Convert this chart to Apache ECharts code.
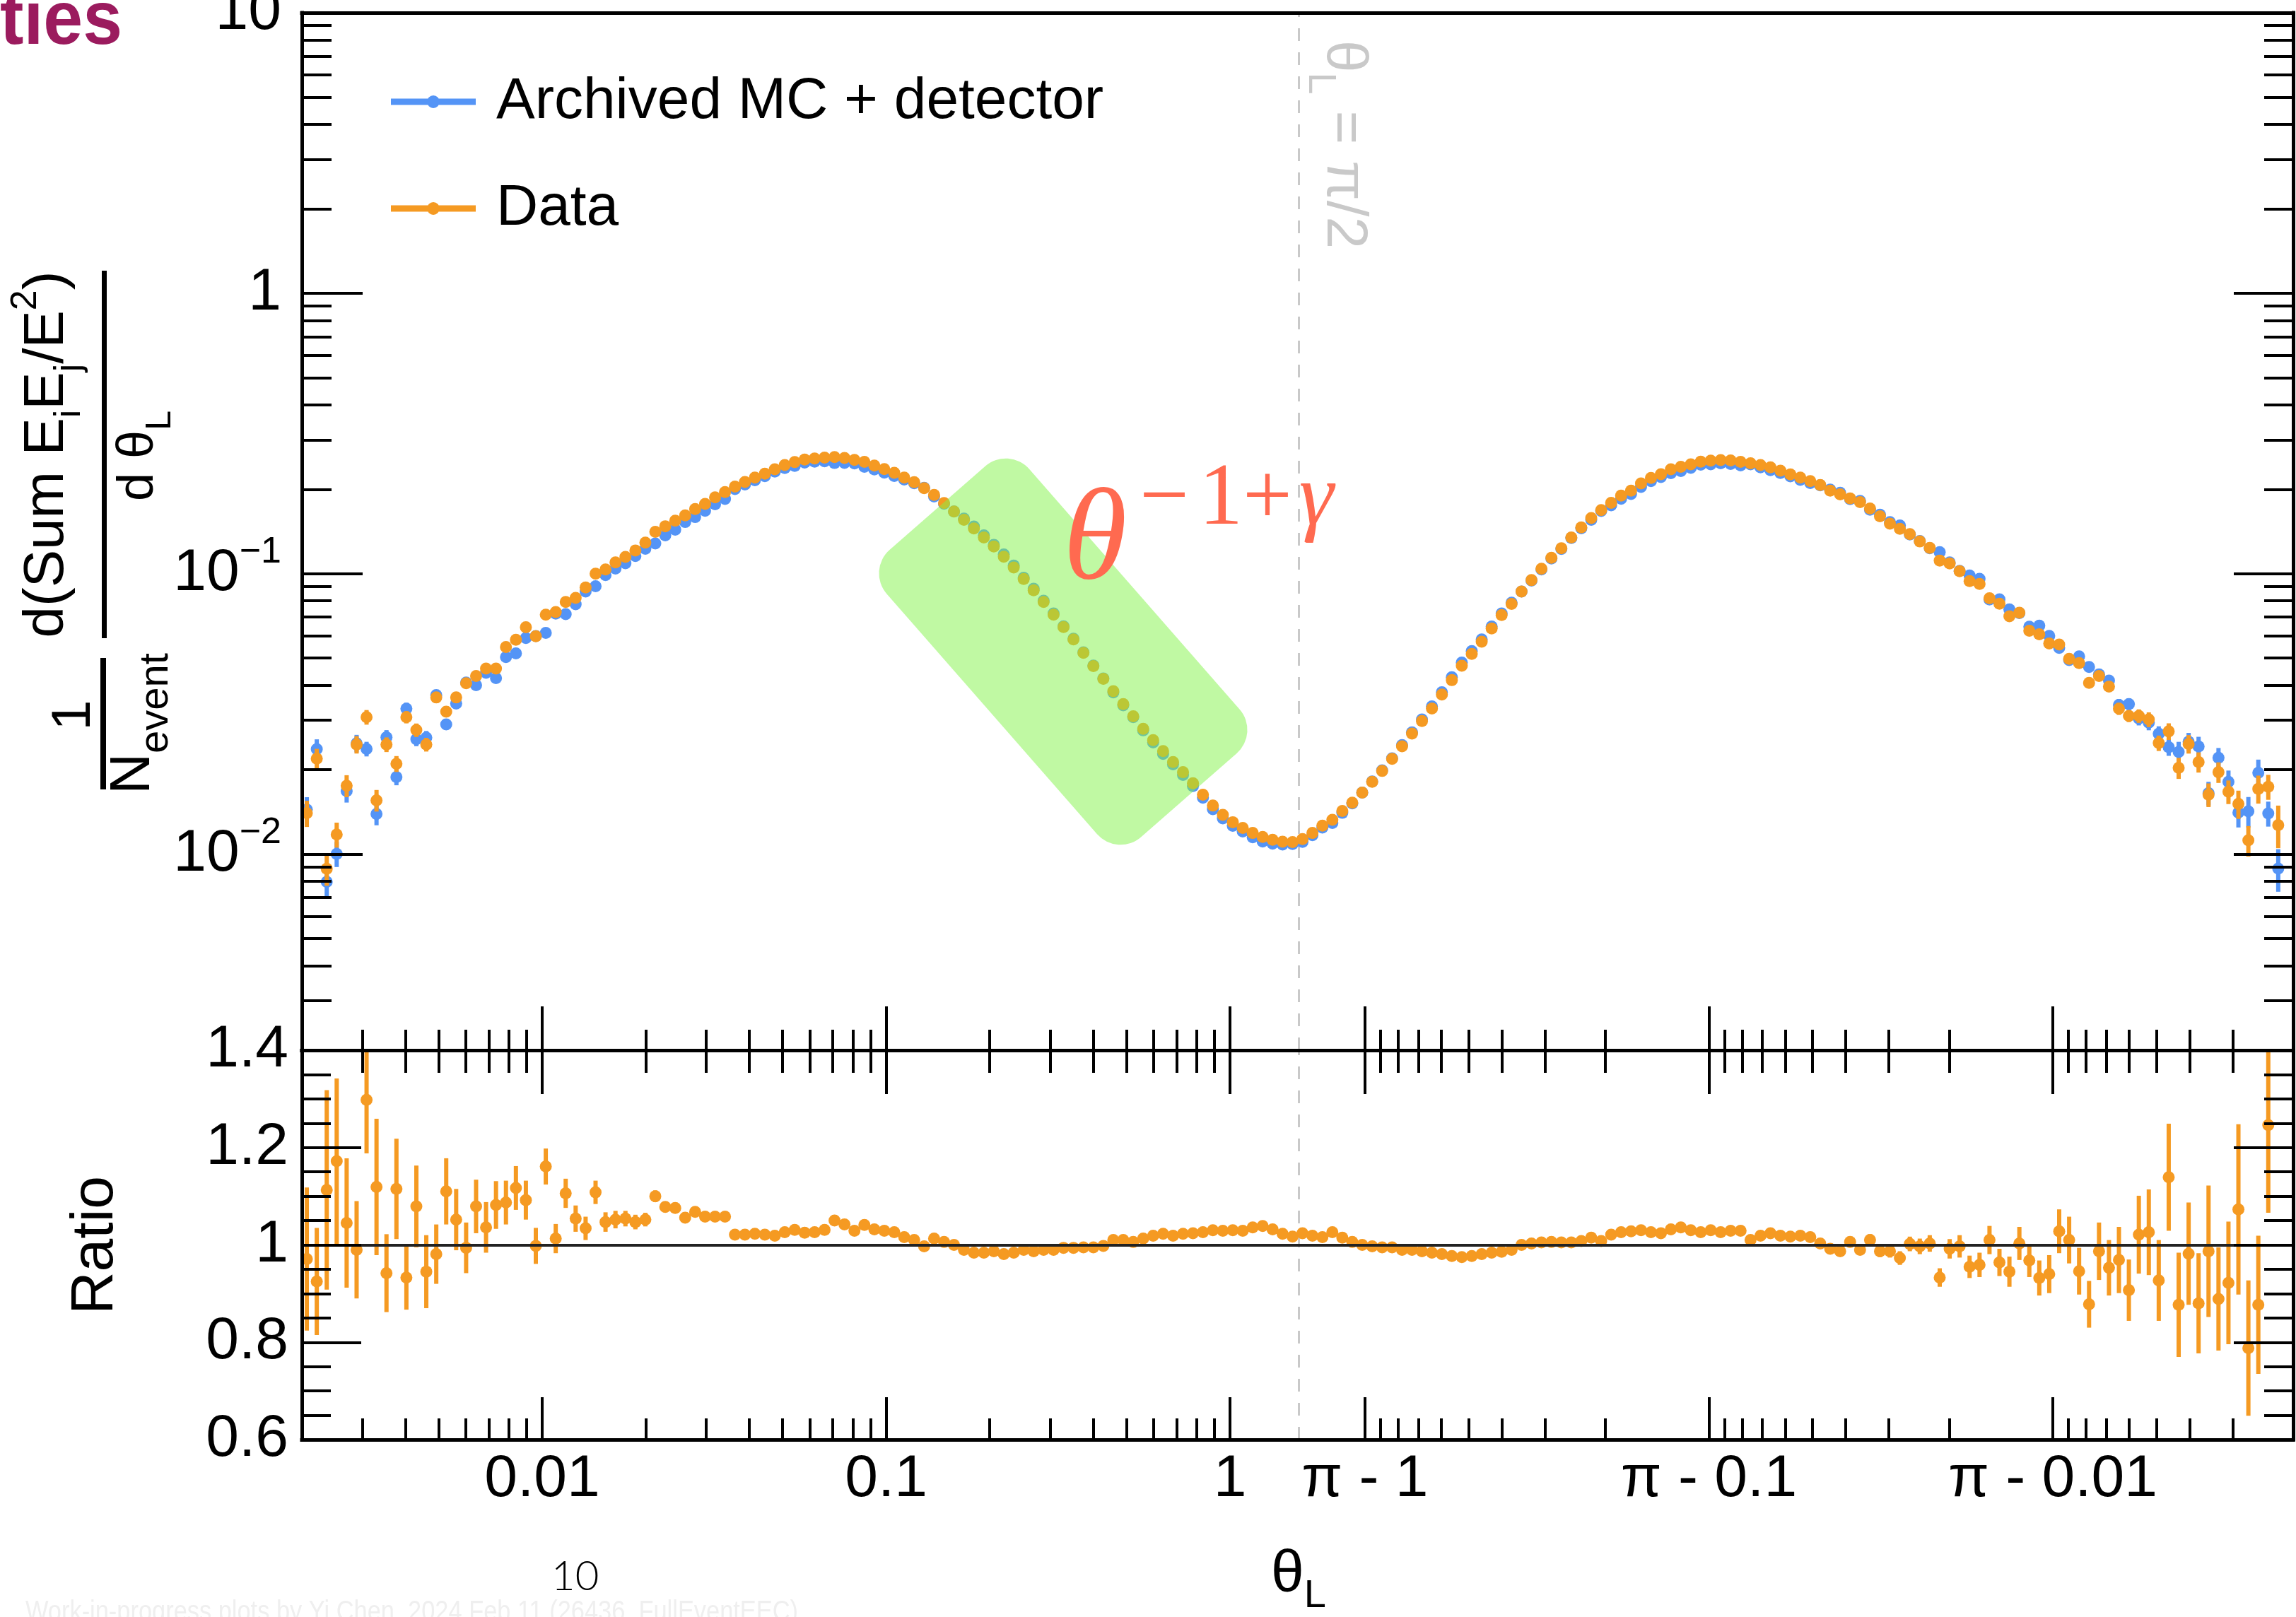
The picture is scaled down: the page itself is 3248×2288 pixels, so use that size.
<!DOCTYPE html>
<html>
<head>
<meta charset="utf-8">
<title>Full-event EEC: archived MC vs data</title>
<script src="https://cdn.jsdelivr.net/npm/echarts@6.0.0/dist/echarts.min.js"></script>
<style>
  html, body { margin: 0; padding: 0; background: #ffffff; }
  #chart { width: 3248px; height: 2288px; }
</style>
</head>
<body>
<div id="chart"></div>
<script>
// ---------------- binning ----------------
// 100 log-spaced bins in theta on [THETA_MIN, pi/2], then 100 mirrored log bins in (pi - theta)
const THETA_MIN = 0.002;
const N_HALF = 100;

// ---------------- per-bin values (left to right along theta_L) ----------------
// Data: 1/N dSum(EiEj/E^2)/dtheta_L
const dataVals = [
  0.0140, 0.0219, 0.00887, 0.01175, 0.01754, 0.0246, 0.0308, 0.01556, 0.0246, 0.0210,
  0.0308, 0.0277, 0.0246, 0.0362, 0.0322, 0.0362, 0.0407, 0.0432, 0.0459, 0.0459,
  0.0548, 0.0581, 0.0644, 0.0598, 0.0714, 0.0730, 0.0793, 0.0820, 0.0893, 0.1000,
  0.1035, 0.1097, 0.1148, 0.1210, 0.1290, 0.1410, 0.1476, 0.1545, 0.1614, 0.1700,
  0.1774, 0.1870, 0.1955, 0.2044, 0.2124, 0.2202, 0.2274, 0.2355, 0.2441, 0.2499,
  0.2551, 0.2574, 0.2593, 0.2605, 0.2586, 0.2544, 0.2503, 0.2430, 0.2359, 0.2288,
  0.2202, 0.2121, 0.2017, 0.1909, 0.1786, 0.1666, 0.1557, 0.1450, 0.1347, 0.1251,
  0.1149, 0.1052, 0.0957, 0.0873, 0.0793, 0.0714, 0.0645, 0.0583, 0.0522, 0.0468,
  0.0422, 0.0381, 0.0343, 0.0310, 0.0280, 0.0255, 0.0233, 0.0213, 0.0196, 0.0179,
  0.0163, 0.0149, 0.0138, 0.0130, 0.0124, 0.0119, 0.01152, 0.01125, 0.01107, 0.01105,
  0.01132, 0.0119, 0.01263, 0.01326, 0.01425, 0.01526, 0.01658, 0.01811, 0.01980, 0.02186,
  0.02424, 0.02690, 0.02982, 0.03308, 0.03707, 0.04173, 0.04697, 0.05178, 0.05718, 0.06379,
  0.07118, 0.07801, 0.08642, 0.09484, 0.1041, 0.1139, 0.1232, 0.1347, 0.1463, 0.1580,
  0.1686, 0.1789, 0.1898, 0.1978, 0.2099, 0.2195, 0.2264, 0.2355, 0.2405, 0.2455,
  0.2509, 0.2529, 0.2541, 0.2533, 0.2503, 0.2477, 0.2441, 0.2394, 0.2328, 0.2260,
  0.2202, 0.2137, 0.2071, 0.1978, 0.1918, 0.1856, 0.1800, 0.1707, 0.1603, 0.1507,
  0.1446, 0.1383, 0.1303, 0.1236, 0.1114, 0.1088, 0.1020, 0.0941, 0.0919, 0.0817,
  0.0781, 0.0705, 0.0726, 0.0626, 0.0608, 0.0564, 0.0559, 0.0497, 0.0480, 0.0408,
  0.0432, 0.0396, 0.0330, 0.0311, 0.0311, 0.0302, 0.0249, 0.0274, 0.0203, 0.0247,
  0.0213, 0.0163, 0.0196, 0.0167, 0.0151, 0.0112, 0.0171, 0.0174, 0.0127, null
];

// Data / archived MC
const ratioVals = [
  0.971, 0.925, 1.113, 1.172, 1.045, 0.990, 1.298, 1.119, 0.942, 1.115,
  0.933, 1.079, 0.945, 0.981, 1.110, 1.052, 0.994, 1.079, 1.036, 1.082,
  1.087, 1.117, 1.092, 0.998, 1.161, 1.013, 1.106, 1.054, 1.034, 1.108,
  1.047, 1.052, 1.054, 1.047, 1.052, 1.100, 1.078, 1.076, 1.056, 1.068,
  1.058, 1.058, 1.058, 1.021, 1.021, 1.023, 1.021, 1.019, 1.026, 1.031,
  1.025, 1.026, 1.031, 1.050, 1.042, 1.029, 1.041, 1.032, 1.029, 1.026,
  1.016, 1.010, 0.997, 1.013, 1.006, 1.000, 0.990, 0.984, 0.984, 0.987,
  0.981, 0.984, 0.990, 0.987, 0.990, 0.990, 0.994, 0.994, 0.995, 0.995,
  0.998, 1.010, 1.010, 1.006, 1.013, 1.019, 1.023, 1.019, 1.023, 1.024,
  1.026, 1.030, 1.029, 1.030, 1.029, 1.036, 1.039, 1.032, 1.023, 1.017,
  1.024, 1.019, 1.016, 1.026, 1.015, 1.006, 1.000, 0.997, 0.995, 0.995,
  0.990, 0.990, 0.987, 0.984, 0.981, 0.977, 0.975, 0.977, 0.981, 0.984,
  0.986, 0.990, 1.000, 1.003, 1.005, 1.006, 1.005, 1.005, 1.008, 1.015,
  1.008, 1.021, 1.026, 1.028, 1.030, 1.026, 1.024, 1.032, 1.036, 1.030,
  1.026, 1.030, 1.026, 1.029, 1.029, 1.010, 1.019, 1.024, 1.019, 1.017,
  1.019, 1.016, 1.003, 0.992, 0.987, 1.006, 0.990, 1.010, 0.987, 0.987,
  0.973, 1.002, 0.997, 1.003, 0.933, 0.992, 0.997, 0.955, 0.959, 1.010,
  0.964, 0.945, 1.003, 0.968, 0.932, 0.940, 1.028, 1.010, 0.946, 0.878,
  0.987, 0.953, 0.969, 0.907, 1.021, 1.026, 0.927, 1.139, 0.877, 0.982,
  0.880, 0.987, 0.889, 0.922, 1.073, 0.788, 0.877, 1.246, 1.430, null
];

// Statistical uncertainty on the ratio
const ratioErr = [
  0.147, 0.110, 0.205, 0.170, 0.133, 0.100, 0.110, 0.140, 0.080, 0.103,
  0.066, 0.084, 0.075, 0.061, 0.068, 0.063, 0.052, 0.055, 0.052, 0.049,
  0.045, 0.045, 0.040, 0.037, 0.037, 0.030, 0.030, 0.027, 0.024, 0.024,
  0.020, 0.018, 0.016, 0.015, 0.014, 0.012, 0.011, 0.010, 0.010, 0.009,
  0.009, 0.008, 0.008, 0.007, 0.007, 0.007, 0.006, 0.006, 0.005, 0.005,
  0.005, 0.005, 0.005, 0.005, 0.005, 0.005, 0.005, 0.005, 0.005, 0.005,
  0.005, 0.005, 0.005, 0.005, 0.005, 0.005, 0.005, 0.005, 0.005, 0.005,
  0.005, 0.005, 0.005, 0.005, 0.005, 0.005, 0.005, 0.005, 0.005, 0.005,
  0.005, 0.005, 0.005, 0.005, 0.005, 0.005, 0.005, 0.005, 0.005, 0.005,
  0.005, 0.005, 0.005, 0.005, 0.005, 0.005, 0.005, 0.005, 0.005, 0.005,
  0.005, 0.005, 0.005, 0.005, 0.005, 0.005, 0.005, 0.005, 0.005, 0.005,
  0.005, 0.005, 0.005, 0.005, 0.005, 0.005, 0.005, 0.005, 0.005, 0.005,
  0.005, 0.005, 0.005, 0.005, 0.005, 0.005, 0.005, 0.005, 0.005, 0.005,
  0.005, 0.005, 0.005, 0.005, 0.005, 0.005, 0.005, 0.005, 0.005, 0.005,
  0.005, 0.005, 0.005, 0.005, 0.005, 0.005, 0.005, 0.005, 0.005, 0.005,
  0.005, 0.006, 0.007, 0.008, 0.008, 0.010, 0.011, 0.012, 0.012, 0.013,
  0.014, 0.015, 0.016, 0.017, 0.019, 0.020, 0.023, 0.023, 0.025, 0.029,
  0.028, 0.031, 0.034, 0.034, 0.036, 0.039, 0.045, 0.048, 0.048, 0.048,
  0.059, 0.057, 0.068, 0.063, 0.080, 0.088, 0.083, 0.110, 0.107, 0.105,
  0.103, 0.135, 0.106, 0.126, 0.175, 0.139, 0.142, 0.180, 0.350, null
];

// ---------------- axis definitions ----------------
const X_MAJOR_THETA = [0.01, 0.1, 1, Math.PI - 1, Math.PI - 0.1, Math.PI - 0.01];
const X_MAJOR_LABELS = ['0.01', '0.1', '1', 'π - 1', 'π - 0.1', 'π - 0.01'];
const X_MINOR_MANTISSA = [2, 3, 4, 5, 6, 7, 8, 9];
const X_MINOR_DECADES = [-3, -2, -1];
const Y_MIN = 0.002, Y_MAX = 10;
const Y_MAJOR_DECADES = [-2, -1, 0, 1];
const RATIO_MIN = 0.6, RATIO_MAX = 1.4;
const RATIO_LABELS = [0.6, 0.8, 1, 1.2, 1.4];
const RATIO_MAJOR_TICKS = [0.8, 1, 1.2];
const RATIO_MINOR_TICKS = [0.65, 0.7, 0.75, 0.85, 0.9, 0.95, 1.05, 1.1, 1.15, 1.25, 1.3, 1.35];

const MC_NAME = 'Archived MC + detector';
const DATA_NAME = 'Data';
const BLUE = '#5494f6';
const ORANGE = '#f59a22';
const RED = '#ff6a50';
const SANS = '"Liberation Sans", Arial, Helvetica, sans-serif';
const SERIF = '"Liberation Serif", "Times New Roman", serif';

// Folded axis: log10(theta) up to pi/2, mirrored log10(pi - theta) beyond it
const HALF_PI = Math.PI / 2;
const LOG_HALF_PI = Math.log10(HALF_PI);
function foldTheta(theta) {
  return theta <= HALF_PI ? Math.log10(theta) : 2 * LOG_HALF_PI - Math.log10(Math.PI - theta);
}
const U_MIN = foldTheta(THETA_MIN);
const U_MAX = foldTheta(Math.PI - THETA_MIN);
const U_HALF = foldTheta(HALF_PI);

// bin centres
const binStep = (LOG_HALF_PI - Math.log10(THETA_MIN)) / N_HALF;
const binTheta = [];
for (let i = 0; i < N_HALF; i++) binTheta.push(Math.pow(10, Math.log10(THETA_MIN) + (i + 0.5) * binStep));
for (let j = 0; j < N_HALF; j++) binTheta.push(Math.PI - Math.pow(10, LOG_HALF_PI - (j + 0.5) * binStep));
const binX = binTheta.map(foldTheta);

// tick positions on the folded axis
const xMajorPos = X_MAJOR_THETA.map(foldTheta);
const xMinorPos = [];
X_MINOR_DECADES.forEach(n => X_MINOR_MANTISSA.forEach(m => {
  const t = m * Math.pow(10, n);
  xMinorPos.push(foldTheta(t), foldTheta(Math.PI - t));
}));
const LOG_MIN = Math.log10(Y_MIN), LOG_MAX = Math.log10(Y_MAX);
const yMajorLog = Y_MAJOR_DECADES.slice();
const yMinorLog = [];
[-3, -2, -1, 0].forEach(n => X_MINOR_MANTISSA.forEach(m => {
  const l = Math.log10(m * Math.pow(10, n));
  if (l >= LOG_MIN - 1e-9 && l <= LOG_MAX) yMinorLog.push(l);
}));

// ---------------- series data ----------------
const upperMC = [], upperData = [], ratioData = [];
dataVals.forEach((d, k) => {
  if (d == null || ratioVals[k] == null) return;
  const r = ratioVals[k];
  const mc = d / r;
  const rel = ratioErr[k] / r / Math.SQRT2;   // split evenly between data and MC
  upperMC.push([binX[k], mc, mc * (1 - rel), mc * (1 + rel)]);
  upperData.push([binX[k], d, d * (1 - rel), d * (1 + rel)]);
  if (r >= RATIO_MIN && r <= RATIO_MAX) ratioData.push([binX[k], r, r - ratioErr[k], r + ratioErr[k]]);
});

function errorBars(lowLimit, highLimit) {
  return function (params, api) {
    const x = api.value(0);
    const lo = Math.max(api.value(2), lowLimit);
    const hi = Math.min(api.value(3), highLimit);
    if (!(hi > lo)) return null;
    const p1 = api.coord([x, lo]);
    const p2 = api.coord([x, hi]);
    return {
      type: 'line',
      shape: { x1: p1[0], y1: p1[1], x2: p2[0], y2: p2[1] },
      style: { stroke: api.visual('color'), lineWidth: 6 }
    };
  };
}

// ---------------- axes ----------------
function axisCfg(o) {
  return {
    type: o.type || 'value', gridIndex: o.grid, position: o.pos,
    min: o.min, max: o.max, z: 10,
    axisLine: { show: !!o.line, onZero: false, lineStyle: { color: '#000', width: 5, cap: 'square' } },
    axisTick: o.ticks ? { show: true, inside: true, length: o.len, customValues: o.ticks,
                          lineStyle: { color: '#000', width: 4 } } : { show: false },
    axisLabel: o.labels ? Object.assign({ show: true, customValues: o.labels, color: '#000',
                          fontFamily: SANS, fontSize: 84, showMinLabel: true, showMaxLabel: true }, o.labelOpt)
                        : { show: false },
    splitLine: { show: false }, splitArea: { show: false },
    minorTick: { show: false }, minorSplitLine: { show: false }
  };
}

const xLabelFormatter = v => {
  const i = xMajorPos.findIndex(p => Math.abs(p - v) < 1e-9);
  return i >= 0 ? X_MAJOR_LABELS[i] : '';
};
const yLabelFormatter = v => {
  const e = Math.round(v);
  if (e === 1) return '{b|10}';
  if (e === 0) return '{b|1}';
  return '{b|10}{s|−' + (-e) + '}';
};
const ratioLabelFormatter = v => (Math.abs(v - 1) < 1e-9 ? '1' : v.toFixed(1));

const xAxes = [
  axisCfg({ grid: 0, pos: 'bottom', min: U_MIN, max: U_MAX, line: true, ticks: xMajorPos, len: 62 }),
  axisCfg({ grid: 0, pos: 'bottom', min: U_MIN, max: U_MAX, ticks: xMinorPos, len: 29 }),
  axisCfg({ grid: 0, pos: 'top', min: U_MIN, max: U_MAX, line: true }),
  axisCfg({ grid: 1, pos: 'bottom', min: U_MIN, max: U_MAX, line: true, ticks: xMajorPos, len: 60,
            labels: xMajorPos, labelOpt: { margin: 15, formatter: xLabelFormatter } }),
  axisCfg({ grid: 1, pos: 'bottom', min: U_MIN, max: U_MAX, ticks: xMinorPos, len: 30 }),
  axisCfg({ grid: 1, pos: 'top', min: U_MIN, max: U_MAX, line: true, ticks: xMajorPos, len: 62 }),
  axisCfg({ grid: 1, pos: 'top', min: U_MIN, max: U_MAX, ticks: xMinorPos, len: 32 })
];

const yAxes = [
  axisCfg({ type: 'log', grid: 0, pos: 'left', min: Y_MIN, max: Y_MAX, line: true }),
  axisCfg({ grid: 0, pos: 'left', min: LOG_MIN, max: LOG_MAX, ticks: yMajorLog, len: 86,
            labels: yMajorLog, labelOpt: {
              margin: 29, formatter: yLabelFormatter,
              rich: {
                b: { fontSize: 84, fontFamily: SANS, color: '#000' },
                s: { fontSize: 52, fontFamily: SANS, color: '#000', verticalAlign: 'top', padding: [0, 0, 60, 0] }
              } } }),
  axisCfg({ grid: 0, pos: 'left', min: LOG_MIN, max: LOG_MAX, ticks: yMinorLog, len: 42 }),
  axisCfg({ grid: 0, pos: 'right', min: LOG_MIN, max: LOG_MAX, line: true, ticks: yMajorLog, len: 84 }),
  axisCfg({ grid: 0, pos: 'right', min: LOG_MIN, max: LOG_MAX, ticks: yMinorLog, len: 41 }),
  axisCfg({ grid: 1, pos: 'left', min: RATIO_MIN, max: RATIO_MAX, line: true, ticks: RATIO_MAJOR_TICKS, len: 84,
            labels: RATIO_LABELS, labelOpt: { margin: 19, formatter: ratioLabelFormatter } }),
  axisCfg({ grid: 1, pos: 'left', min: RATIO_MIN, max: RATIO_MAX, ticks: RATIO_MINOR_TICKS, len: 41 }),
  axisCfg({ grid: 1, pos: 'right', min: RATIO_MIN, max: RATIO_MAX, line: true, ticks: RATIO_MAJOR_TICKS, len: 84 }),
  axisCfg({ grid: 1, pos: 'right', min: RATIO_MIN, max: RATIO_MAX, ticks: RATIO_MINOR_TICKS, len: 41 })
];

// ---------------- free text (titles, annotations) ----------------
const MID = 0.35;   // canvas 'middle' sits ~0.35 em above the alphabetic baseline
const mctx = document.createElement('canvas').getContext('2d');
function fontOf(p, family) {
  return (p.style || 'normal') + ' ' + (p.weight || 'normal') + ' ' + p.size + 'px ' + (p.family || family);
}
// Lays out a run of text pieces along a baseline; rot is counter-clockwise in radians
function textRun(pieces, o) {
  const r = o.rot || 0;
  const sx = o.scaleX || 1;
  const ax = Math.cos(r), ay = -Math.sin(r);
  const dx = Math.sin(r), dy = Math.cos(r);
  const widths = pieces.map(p => { mctx.font = fontOf(p, o.family); return mctx.measureText(p.t).width * sx; });
  const total = pieces.reduce((s, p, i) => s + (p.gap || 0) + widths[i], 0);
  let adv = o.align === 'center' ? -total / 2 : 0;
  return pieces.map((p, i) => {
    adv += p.gap || 0;
    const off = (p.dy || 0) - MID * p.size;
    const el = {
      type: 'text', silent: true, z: o.z || 50, rotation: r, scaleX: sx,
      x: o.x + ax * adv + dx * off, y: o.y + ay * adv + dy * off,
      style: { text: p.t, font: fontOf(p, o.family), fill: o.color || '#000',
               textAlign: 'left', textVerticalAlign: 'middle', align: 'left', verticalAlign: 'middle' }
    };
    adv += widths[i];
    return el;
  });
}

const ROT_UP = Math.PI / 2, ROT_DOWN = -Math.PI / 2;
const graphics = [].concat(
  textRun([{ t: 'ties', size: 108, weight: 'bold' }], { x: 0, y: 70, family: SANS, color: '#9b1b5e', scaleX: 0.93 }),
  // y-axis title: 1/N_event  d(Sum E_iE_j/E^2)/d theta_L
  textRun([{ t: 'd(Sum E', size: 80 }, { t: 'i', size: 52, dy: 22 }, { t: 'E', size: 80 },
           { t: 'j', size: 52, dy: 22 }, { t: '/E', size: 80 }, { t: '2', size: 52, dy: -40 }, { t: ')', size: 80 }],
          { x: 95, y: 643, rot: ROT_UP, align: 'center', family: SANS }),
  textRun([{ t: 'd θ', size: 72 }, { t: 'L', size: 50, dy: 24 }],
          { x: 221, y: 645, rot: ROT_UP, align: 'center', family: SANS }),
  textRun([{ t: '1', size: 78 }], { x: 133, y: 1012, rot: ROT_UP, align: 'center', family: SANS }),
  textRun([{ t: 'N', size: 80 }, { t: 'event', size: 58, dy: 24 }],
          { x: 217, y: 1024, rot: ROT_UP, align: 'center', family: SANS }),
  textRun([{ t: 'Ratio', size: 84 }], { x: 165, y: 1762, rot: ROT_UP, align: 'center', family: SANS }),
  // x-axis title
  textRun([{ t: 'θ', size: 84 }, { t: 'L', size: 56, dy: 20 }], { x: 1798, y: 2258, family: SANS }),
  // pi/2 marker label
  textRun([{ t: 'θ', size: 82 }, { t: 'L', size: 56, dy: 24 }, { t: ' = π/2', size: 82 }],
          { x: 1872, y: 57, rot: ROT_DOWN, family: SANS, color: '#c9c9c9' }),
  // power-law annotation
  textRun([{ t: 'θ', size: 184, style: 'italic' }], { x: 1504, y: 834, family: SERIF, color: RED, z: 101 }),
  textRun([{ t: '−', size: 124 }, { t: '1', size: 124, gap: 14 }, { t: '+', size: 124 },
           { t: 'γ', size: 124, style: 'italic', gap: 10 }],
          { x: 1612, y: 752, family: SERIF, color: RED, z: 101 }),
  textRun([{ t: '10', size: 58, weight: 300 }], { x: 780, y: 2252, family: 'Lato, Roboto, sans-serif' }),
  textRun([{ t: 'Work-in-progress plots by Yi Chen, 2024 Feb 11 (26436_FullEventEEC)', size: 40 }],
          { x: 36, y: 2296, family: SANS, color: '#efefef', scaleX: 0.86 }),
  [
    // fraction bars of the y-axis title
    { type: 'rect', silent: true, z: 50, shape: { x: 144, y: 383, width: 7, height: 520 }, style: { fill: '#000' } },
    { type: 'rect', silent: true, z: 50, shape: { x: 142, y: 931, width: 8, height: 186 }, style: { fill: '#000' } },
    // highlighted power-law region
    { type: 'rect', silent: true, z: 100, x: 1504, y: 922, rotation: -0.852,
      shape: { x: -270, y: -134, width: 540, height: 268, r: 44 },
      style: { fill: 'rgba(130,243,71,0.5)' } }
  ]
);

const LEGEND_ICON = 'path://M0,5.5L120,5.5L120,14.5L0,14.5Z M51,10A9,9,0,1,1,69,10A9,9,0,1,1,51,10Z';

const option = {
  animation: false,
  backgroundColor: '#ffffff',
  grid: [
    { left: 427, top: 18, width: 2817, height: 1468, containLabel: false, outerBoundsMode: 'none' },
    { left: 427, top: 1486, width: 2817, height: 551, containLabel: false, outerBoundsMode: 'none' }
  ],
  legend: {
    orient: 'vertical', left: 548, top: 98, itemWidth: 120, itemHeight: 18, itemGap: 69,
    selectedMode: false,
    itemStyle: { borderWidth: 0 },
    data: [{ name: MC_NAME, icon: LEGEND_ICON }, { name: DATA_NAME, icon: LEGEND_ICON }],
    textStyle: { fontSize: 82, fontFamily: SANS, color: '#000', padding: [0, 0, 0, 24] }
  },
  xAxis: xAxes,
  yAxis: yAxes,
  series: [
    { name: MC_NAME, type: 'custom', xAxisIndex: 0, yAxisIndex: 0, data: upperMC, encode: { x: 0, y: 1 },
      renderItem: errorBars(Y_MIN, Y_MAX), itemStyle: { color: BLUE }, z: 2, silent: true },
    { name: MC_NAME, type: 'scatter', xAxisIndex: 0, yAxisIndex: 0, data: upperMC, encode: { x: 0, y: 1 },
      symbol: 'circle', symbolSize: 17, itemStyle: { color: BLUE, opacity: 1 }, z: 3, silent: true },
    { name: DATA_NAME, type: 'custom', xAxisIndex: 0, yAxisIndex: 0, data: upperData, encode: { x: 0, y: 1 },
      renderItem: errorBars(Y_MIN, Y_MAX), itemStyle: { color: ORANGE }, z: 4, silent: true,
      markLine: { z: 1, silent: true, symbol: 'none', label: { show: false },
                  lineStyle: { color: '#c9c9c9', width: 3, type: [18, 16] }, data: [{ xAxis: U_HALF }] } },
    { name: DATA_NAME, type: 'scatter', xAxisIndex: 0, yAxisIndex: 0, data: upperData, encode: { x: 0, y: 1 },
      symbol: 'circle', symbolSize: 17, itemStyle: { color: ORANGE, opacity: 1 }, z: 5, silent: true },
    { name: DATA_NAME, type: 'custom', xAxisIndex: 3, yAxisIndex: 5, data: ratioData, encode: { x: 0, y: 1 },
      renderItem: errorBars(RATIO_MIN, RATIO_MAX), itemStyle: { color: ORANGE }, z: 4, silent: true,
      markLine: { z: 1, silent: true, symbol: 'none', label: { show: false },
                  lineStyle: { color: '#c9c9c9', width: 3, type: [18, 16] }, data: [{ xAxis: U_HALF }] } },
    { name: DATA_NAME, type: 'scatter', xAxisIndex: 3, yAxisIndex: 5, data: ratioData, encode: { x: 0, y: 1 },
      symbol: 'circle', symbolSize: 17, itemStyle: { color: ORANGE, opacity: 1 }, z: 5, silent: true,
      markLine: { z: 6, silent: true, symbol: 'none', label: { show: false },
                  lineStyle: { color: '#222', width: 4, type: 'solid' }, data: [{ yAxis: 1 }] } }
  ],
  graphic: { elements: graphics }
};

const chart = echarts.init(document.getElementById('chart'), null, { renderer: 'canvas', width: 3248, height: 2288 });
chart.setOption(option);
</script>
</body>
</html>
